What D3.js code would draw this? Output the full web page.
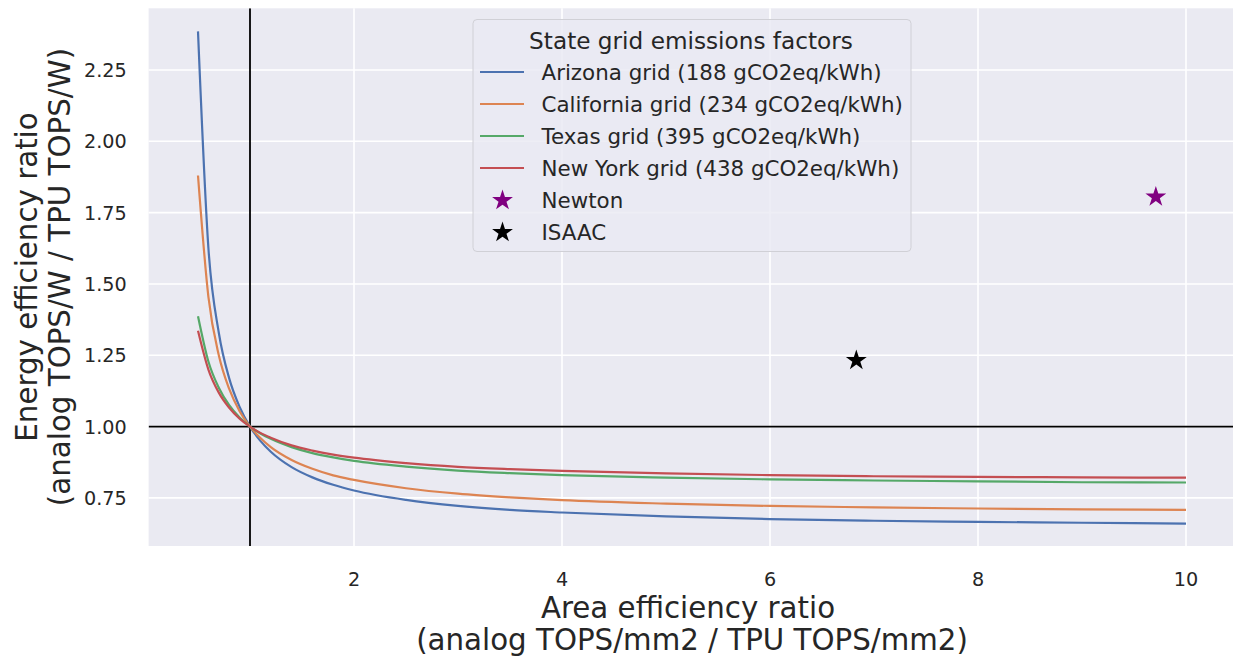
<!DOCTYPE html>
<html lang="en">
<head>
    <meta charset="UTF-8">
    <title>Carbon parity curves</title>
    <script src="https://d3js.org/d3.v7.min.js"></script>
    <style>
        body { margin: 0; background: #fff; }
        svg text { font-family: "DejaVu Sans", sans-serif; fill: #262626; }
    </style>
</head>
<body>
    <div id="chart"></div>

    <script>
        // area efficiency ratio (x) sampled along the curves
        const areaRatio = [0.5, 0.6, 0.7, 0.8, 0.9, 1.0, 1.1, 1.2, 1.4, 1.6, 1.8, 2, 2.5, 3, 3.5, 4, 5, 6, 7, 8, 9, 10];

        // energy efficiency ratio needed for parity, per state grid
        const arizona    = [2.385, 1.626, 1.329, 1.169, 1.069, 1.0, 0.950, 0.912, 0.858, 0.822, 0.796, 0.776, 0.743, 0.722, 0.708, 0.699, 0.685, 0.676, 0.670, 0.666, 0.663, 0.660];
        const california = [1.880, 1.455, 1.250, 1.132, 1.054, 1.0, 0.960, 0.928, 0.883, 0.852, 0.829, 0.813, 0.784, 0.765, 0.752, 0.742, 0.730, 0.722, 0.717, 0.713, 0.710, 0.708];
        const texas      = [1.387, 1.228, 1.136, 1.075, 1.032, 1.0, 0.976, 0.957, 0.928, 0.907, 0.892, 0.880, 0.860, 0.846, 0.837, 0.830, 0.821, 0.815, 0.811, 0.808, 0.805, 0.804];
        const newYork    = [1.336, 1.200, 1.119, 1.066, 1.028, 1.0, 0.978, 0.961, 0.934, 0.916, 0.902, 0.891, 0.872, 0.859, 0.851, 0.845, 0.836, 0.830, 0.826, 0.824, 0.822, 0.821];

        const seriesNames = [
            "Arizona grid (188 gCO2eq/kWh)",
            "California grid (234 gCO2eq/kWh)",
            "Texas grid (395 gCO2eq/kWh)",
            "New York grid (438 gCO2eq/kWh)"
        ];
        const seriesColors = ["#4C72B0", "#DD8452", "#55A868", "#C44E52"];

        // single chips
        const chipNames = ["Newton", "ISAAC"];
        const chipArea = [9.71, 6.83];
        const chipEnergy = [1.805, 1.232];
        const chipColors = ["purple", "black"];

        const xTicks = [2, 4, 6, 8, 10];
        const yTicks = [0.75, 1.00, 1.25, 1.50, 1.75, 2.00, 2.25];

        const W = 1233, H = 658;
        const svg = d3.select("#chart").append("svg")
            .attr("width", W).attr("height", H);

        const x = d3.scaleLinear().domain([0.025, 10.475]).range([148.6, 1235.4]);
        const y = d3.scaleLinear().domain([0.5815, 2.466]).range([546, 8.3]);

        svg.append("clipPath").attr("id", "plotclip")
            .append("rect").attr("x", 148.6).attr("y", 8.3)
            .attr("width", 1235.4 - 148.6).attr("height", 546 - 8.3);

        // background
        svg.append("rect")
            .attr("x", 148.6).attr("y", 8.3)
            .attr("width", 1235.4 - 148.6).attr("height", 546 - 8.3)
            .attr("fill", "#EAEAF2");

        // grid
        const grid = svg.append("g");
        grid.selectAll(".gx").data(xTicks).enter().append("line")
            .attr("x1", d => x(d)).attr("x2", d => x(d))
            .attr("y1", 8.3).attr("y2", 546)
            .attr("stroke", "#fff").attr("stroke-width", 1.6);
        grid.selectAll(".gy").data(yTicks).enter().append("line")
            .attr("y1", d => y(d)).attr("y2", d => y(d))
            .attr("x1", 148.6).attr("x2", 1235.4)
            .attr("stroke", "#fff").attr("stroke-width", 1.6);

        // tick labels
        svg.append("g").selectAll("text").data(xTicks).enter().append("text")
            .attr("x", d => x(d)).attr("y", 585.5)
            .attr("text-anchor", "middle")
            .attr("font-size", 19.2)
            .text(d => d);
        svg.append("g").selectAll("text").data(yTicks).enter().append("text")
            .attr("x", 126.7).attr("y", d => y(d) + 7.2)
            .attr("text-anchor", "end")
            .attr("font-size", 19.2)
            .text(d => d.toFixed(2));

        const plot = svg.append("g").attr("clip-path", "url(#plotclip)");

        // reference lines at parity
        plot.append("line")
            .attr("x1", x(1)).attr("x2", x(1)).attr("y1", 8.3).attr("y2", 546)
            .attr("stroke", "#000").attr("stroke-width", 1.8);
        plot.append("line")
            .attr("y1", y(1)).attr("y2", y(1)).attr("x1", 148.6).attr("x2", 1235.4)
            .attr("stroke", "#000").attr("stroke-width", 1.8);

        const line = d3.line()
            .x((d, i) => x(areaRatio[i]))
            .y(d => y(d))
            .curve(d3.curveMonotoneX);

        [arizona, california, texas, newYork].forEach((vals, i) => {
            plot.append("path")
                .datum(vals)
                .attr("fill", "none")
                .attr("stroke", seriesColors[i])
                .attr("stroke-width", 2.2)
                .attr("d", line);
        });

        const star = d3.symbol().type(d3.symbolStar).size(135);
        plot.selectAll(".chip").data(chipNames).enter().append("path")
            .attr("d", star)
            .attr("transform", (d, i) => `translate(${x(chipArea[i])},${y(chipEnergy[i])})`)
            .attr("fill", (d, i) => chipColors[i]);

        // axis labels
        svg.append("text")
            .attr("x", 688).attr("y", 618)
            .attr("text-anchor", "middle").attr("font-size", 29.3)
            .text("Area efficiency ratio");
        svg.append("text")
            .attr("x", 692).attr("y", 650)
            .attr("text-anchor", "middle").attr("font-size", 29.3)
            .text("(analog TOPS/mm2 / TPU TOPS/mm2)");

        svg.append("text")
            .attr("transform", "translate(37,277) rotate(-90)")
            .attr("text-anchor", "middle").attr("font-size", 29.3)
            .text("Energy efficiency ratio");
        svg.append("text")
            .attr("transform", "translate(70,277) rotate(-90)")
            .attr("text-anchor", "middle").attr("font-size", 29.3)
            .text("(analog TOPS/W / TPU TOPS/W)");

        // legend
        const lg = svg.append("g");
        lg.append("rect")
            .attr("x", 473).attr("y", 19.5)
            .attr("width", 438).attr("height", 232)
            .attr("rx", 4)
            .attr("fill", "#EAEAF2").attr("fill-opacity", 0.8)
            .attr("stroke", "#D0D0D6").attr("stroke-width", 1);
        lg.append("text")
            .attr("x", 691).attr("y", 48.5)
            .attr("text-anchor", "middle").attr("font-size", 23.2)
            .text("State grid emissions factors");

        const rowY = [72, 104, 136, 168, 200.5, 232.5];
        seriesNames.forEach((name, i) => {
            lg.append("line")
                .attr("x1", 480).attr("x2", 524)
                .attr("y1", rowY[i]).attr("y2", rowY[i])
                .attr("stroke", seriesColors[i]).attr("stroke-width", 2.2);
            lg.append("text")
                .attr("x", 541.5).attr("y", rowY[i] + 7.7)
                .attr("font-size", 21.4)
                .text(name);
        });
        chipNames.forEach((name, i) => {
            const ry = rowY[seriesNames.length + i];
            lg.append("path")
                .attr("d", star)
                .attr("transform", `translate(502.5,${ry})`)
                .attr("fill", chipColors[i]);
            lg.append("text")
                .attr("x", 541.5).attr("y", ry + 7.7)
                .attr("font-size", 21.4)
                .text(name);
        });
    </script>
</body>
</html>
